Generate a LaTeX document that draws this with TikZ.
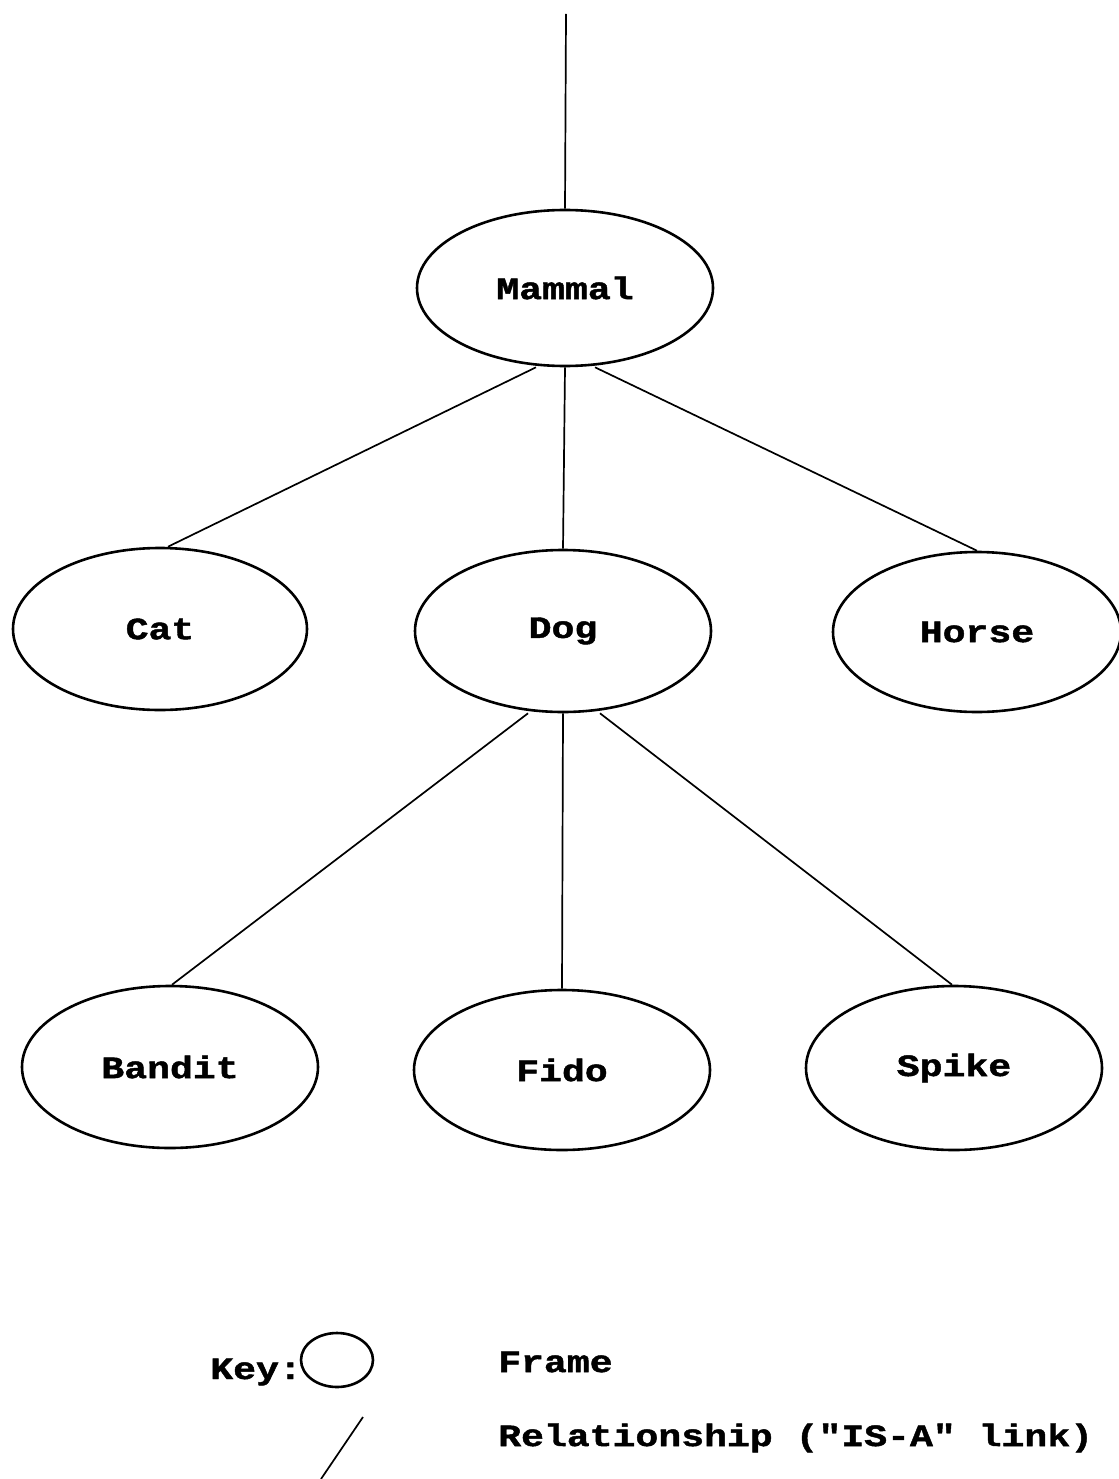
\documentclass[tikz,border=0pt]{standalone}
\usepackage{fontspec}
\setmonofont[FakeStretch=1.23,FakeBold=1.5]{Liberation Mono}
\usetikzlibrary{shapes.geometric}
\begin{document}
\begin{tikzpicture}[x=1pt,y=-1pt,
  frame/.style={draw, ellipse, line width=2.6pt, minimum width=294pt, minimum height=160pt, inner sep=0pt,
     font=\fontsize{31}{36}\selectfont\ttfamily\bfseries},
  isa/.style={line width=1.7pt},
  lbl/.style={anchor=west, inner sep=0pt, font=\fontsize{31}{36}\selectfont\ttfamily\bfseries}]
\useasboundingbox (0,0) rectangle (1118,1479);
\node[frame, minimum height=156pt, minimum width=296pt] (mammal) at (565,288) {Mammal};
\node[frame, minimum height=162pt] (cat) at (160,629) {Cat};
\node[frame, minimum height=162pt, minimum width=296pt] (dog) at (563,631) {Dog};
\node[frame, minimum height=160pt, minimum width=288pt] (horse) at (977,632) {Horse};
\node[frame, minimum height=162pt, minimum width=296pt] (bandit) at (170,1067) {Bandit};
\node[frame, minimum height=160pt, minimum width=296pt] (fido) at (562,1070) {Fido};
\node[frame, minimum height=164pt, minimum width=296pt] (spike) at (954,1068) {Spike};

\coordinate (top) at (566,14);
\draw[isa] (top) -- (mammal.north);
\draw[isa] ([xshift=-29pt]mammal.south) -- ([xshift=8pt]cat.north);
\draw[isa] (mammal.south) -- (dog.north);
\draw[isa] ([xshift=30pt]mammal.south) -- (horse.north);
\draw[isa] ([xshift=-35pt]dog.south) -- ([xshift=2pt]bandit.north);
\draw[isa] (dog.south) -- (fido.north);
\draw[isa] ([xshift=37pt]dog.south) -- ([xshift=-2pt]spike.north);

% key
\node[draw, ellipse, line width=2.6pt, minimum width=72pt, minimum height=54pt, inner sep=0pt] (keyframe) at (337,1360) {};
\node[lbl, anchor=east] (keylbl) at (302,1372) {Key:};
\node[lbl] (framelbl) at (498,1362) {Frame};
\coordinate (ka) at (363,1417);
\coordinate (kb) at (321,1479);
\draw[isa] (ka) -- (kb);
\node[lbl] (rellbl) at (498,1438) {Relationship ("IS-A" link)};
\end{tikzpicture}
\end{document}
